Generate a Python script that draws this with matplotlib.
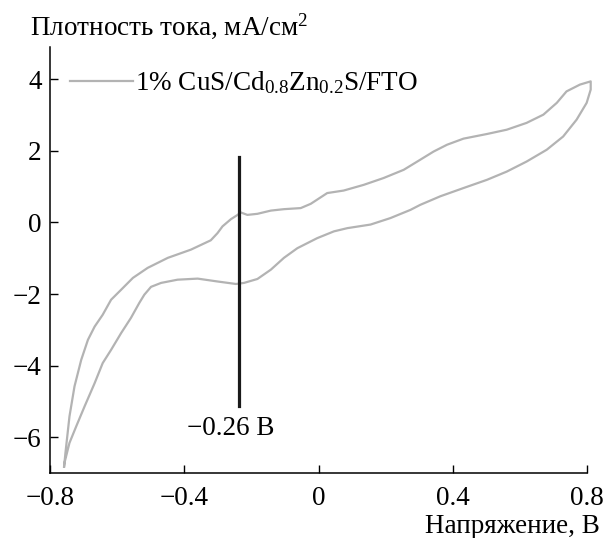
import matplotlib
matplotlib.use("Agg")
import matplotlib.pyplot as plt

plt.rcParams['font.family'] = ['Liberation Serif', 'DejaVu Serif']
plt.rcParams['mathtext.fontset'] = 'custom'
plt.rcParams['mathtext.rm'] = 'Liberation Serif'
plt.rcParams['mathtext.it'] = 'Liberation Serif:italic'
plt.rcParams['axes.unicode_minus'] = True

FS = 19.5

# Forward scan (upper branch): from -0.76 V to 0.81 V
fwd_v = [-0.758, -0.754, -0.742, -0.727, -0.707, -0.687, -0.667, -0.643, -0.618, -0.588,
         -0.553, -0.509, -0.449, -0.380, -0.321, -0.301, -0.286, -0.261, -0.241, -0.232,
         -0.212, -0.182, -0.142, -0.103, -0.053, -0.023, 0.026, 0.075, 0.135, 0.194,
         0.254, 0.303, 0.343, 0.383, 0.432, 0.502, 0.561, 0.620, 0.670, 0.710,
         0.739, 0.779, 0.811]
fwd_j = [-6.82, -6.44, -5.42, -4.58, -3.84, -3.28, -2.91, -2.58, -2.16, -1.88,
         -1.55, -1.27, -0.99, -0.76, -0.50, -0.30, -0.11, 0.09, 0.21, 0.28,
         0.21, 0.24, 0.33, 0.37, 0.40, 0.52, 0.82, 0.89, 1.05, 1.24,
         1.47, 1.75, 1.98, 2.17, 2.34, 2.47, 2.59, 2.78, 3.01, 3.34,
         3.66, 3.85, 3.94]

# Reverse scan (lower branch): from 0.81 V back to -0.76 V
rev_v = [0.811, 0.799, 0.769, 0.729, 0.680, 0.620, 0.561, 0.502, 0.432, 0.363,
         0.303, 0.274, 0.214, 0.155, 0.086, 0.046, -0.004, -0.063, -0.103, -0.142,
         -0.182, -0.222, -0.246, -0.301, -0.360, -0.420, -0.469, -0.499, -0.519, -0.534,
         -0.559, -0.588, -0.618, -0.643, -0.667, -0.697, -0.722, -0.742, -0.757, -0.758]
rev_j = [3.71, 3.34, 2.87, 2.40, 2.03, 1.70, 1.42, 1.19, 0.96, 0.73,
         0.49, 0.35, 0.12, -0.06, -0.16, -0.25, -0.44, -0.72, -0.99, -1.32,
         -1.58, -1.69, -1.72, -1.65, -1.57, -1.60, -1.69, -1.80, -2.02, -2.25,
         -2.67, -3.09, -3.56, -3.93, -4.49, -5.14, -5.70, -6.16, -6.72, -6.82]

cv_v = fwd_v + rev_v
cv_j = fwd_j + rev_j

marker_v = -0.237
marker_j = [1.84, -5.14]
marker_label = "\u22120.26 В"

xticks = [-0.8, -0.4, 0, 0.4, 0.8]
xticklabels = ["\u22120.8", "\u22120.4", "0", "0.4", "0.8"]
yticks = [-6, -4, -2, 0, 2, 4]
yticklabels = ["\u22126", "\u22124", "\u22122", "0", "2", "4"]

fig = plt.figure(figsize=(6.04, 5.38), dpi=100)
W, H = 604, 538
ax = fig.add_axes([50 / W, (H - 473) / H, (587 - 50) / W, (473 - 47) / H])

ax.plot(cv_v, cv_j, color='#b3b3b3', lw=1.6, clip_on=False,
        label="1% CuS/Cd$_{0.8}$Zn$_{0.2}$S/FTO")
ax.plot([marker_v, marker_v], marker_j, color='#1a1a1a', lw=2.3)
ax.text(-0.26, -5.75, marker_label, fontsize=FS, ha='center', va='center')

ax.set_xlim(-0.8, 0.8)
ax.set_ylim(-7, 4.9)
ax.set_xticks(xticks)
ax.set_xticklabels(xticklabels)
ax.set_yticks(yticks)
ax.set_yticklabels(yticklabels)
ax.tick_params(direction='in', length=5.5, width=1.0, labelsize=FS, color='black')
ax.tick_params(axis='x', pad=9.5)
ax.tick_params(axis='y', pad=6)
for s in ['top', 'right']:
    ax.spines[s].set_visible(False)
for s in ['left', 'bottom']:
    ax.spines[s].set_linewidth(1.1)

leg = ax.legend(loc='center left', bbox_to_anchor=((70 - 50) / 537, (473 - 83) / 426),
                frameon=False, fontsize=FS, handlelength=2.33, handletextpad=0.08,
                borderpad=0, borderaxespad=0)

fig.text(30 / W, (H - 35) / H, "Плотность тока, мА/см$^2$", fontsize=FS,
         ha='left', va='baseline')
fig.text(600 / W, (H - 533) / H, "Напряжение, В", fontsize=FS,
         ha='right', va='baseline')

fig.savefig("out.png", dpi=100)
